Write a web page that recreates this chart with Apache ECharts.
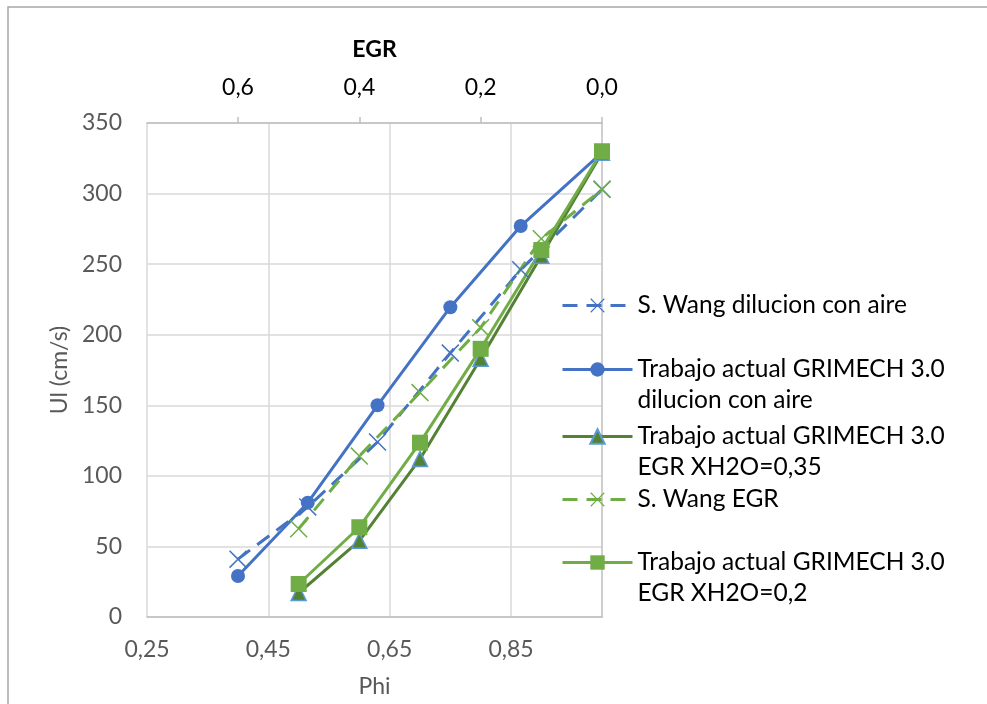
<!DOCTYPE html>
<html>
<head>
<meta charset="utf-8">
<title>Ul vs Phi</title>
<script src="https://cdn.jsdelivr.net/npm/echarts@6/dist/echarts.min.js"></script>
<style>
  html, body { margin: 0; padding: 0; background: #fff; }
  #chart { width: 987px; height: 704px; }
</style>
</head>
<body>
<div id="chart"></div>
<script>
// datos
var phiAire = [0.4, 0.515, 0.63, 0.75, 0.866, 1.0];
var phiEgr = [0.5, 0.6, 0.7, 0.8, 0.9, 1.0];

var wangAire = [41, 78, 124, 187, 246, 303];
var trabajoAire = [29, 81, 150, 219.5, 277, 329];
var trabajoEgr035 = [17, 54, 112, 183, 256, 329];
var wangEgr = [62.5, 114, 159, 205, 268, 303];
var trabajoEgr02 = [23.4, 63.6, 123.5, 190, 260, 330];

var phiTicks = [0.25, 0.45, 0.65, 0.85];
var egrTicks = [0, 0.2, 0.4, 0.6];

var nombres = [
    'S. Wang dilucion con aire',
    'Trabajo actual GRIMECH 3.0 dilucion con aire',
    'Trabajo actual GRIMECH 3.0 EGR XH2O=0,35',
    'S. Wang EGR',
    'Trabajo actual GRIMECH 3.0 EGR XH2O=0,2'
];

var FONT = 'Lato';
var AZUL = '#4472C4';
var VERDE = '#70AD47';
var VERDE_OSC = '#548235';
var CRUZ = 'path://M0,0.6L0.6,0L5,4.4L9.4,0L10,0.6L5.6,5L10,9.4L9.4,10L5,5.6L0.6,10L0,9.4L4.4,5Z';

function pares(xs, ys) {
    return xs.map(function (x, i) { return [x, ys[i]]; });
}
function coma(v, dec) {
    return v.toFixed(dec).replace('.', ',');
}

// leyendas separadas para colocar cada entrada como en Excel
var leyendaTops = [290, 323, 390, 484, 516];
var leyendas = nombres.map(function (n, i) {
    return {
        data: [n],
        orient: 'vertical',
        left: 561,
        top: leyendaTops[i],
        padding: 0,
        itemWidth: 70,
        itemHeight: 18,
        selectedMode: false,
        lineStyle: { width: 3 },
        textStyle: { fontFamily: FONT, fontSize: 24.5, color: '#000', lineHeight: 31 },
        formatter: function (name) {
            if (name.indexOf('GRIMECH 3.0 ') > 0) {
                var k = name.indexOf('3.0 ') + 3;
                return '\n' + name.slice(0, k) + '\n' + name.slice(k + 1);
            }
            return name;
        }
    };
});

var chart = echarts.init(document.getElementById('chart'));
var option = {
    animation: false,
    backgroundColor: '#fff',
    graphic: [{
        type: 'rect',
        shape: { x: 8, y: 7, width: 1200, height: 900 },
        style: { fill: 'none', stroke: '#a6a6a6', lineWidth: 1.5 },
        silent: true
    }],
    legend: leyendas,
    grid: { left: 147, right: 385, top: 123, bottom: 87, containLabel: false },
    xAxis: [
        {
            type: 'value',
            position: 'bottom',
            min: 0.25,
            max: 1.0,
            interval: 0.2,
            name: 'Phi',
            nameLocation: 'middle',
            nameGap: 58,
            nameTextStyle: { fontFamily: FONT, fontSize: 23, color: '#595959' },
            axisLine: { show: true, lineStyle: { color: '#bfbfbf', width: 1.5 } },
            axisTick: { show: false },
            axisLabel: {
                showMaxLabel: false,
                margin: 21,
                fontFamily: FONT, fontSize: 23, color: '#595959',
                formatter: function (v) { return phiTicks.indexOf(+v.toFixed(2)) >= 0 ? coma(v, 2) : ''; }
            },
            splitLine: { show: true, showMaxLine: false, lineStyle: { color: '#d9d9d9', width: 1.5 } }
        },
        {
            type: 'value',
            position: 'top',
            inverse: true,
            min: 0,
            max: 0.75,
            interval: 0.2,
            name: 'EGR',
            nameLocation: 'middle',
            nameGap: 62,
            nameTextStyle: { fontFamily: FONT, fontSize: 23, fontWeight: 'bold', color: '#000' },
            axisLine: { show: true, lineStyle: { color: '#bfbfbf', width: 1.5 } },
            axisTick: { show: true, inside: false, length: 6, lineStyle: { color: '#bfbfbf', width: 1.5 }, customValues: egrTicks },
            axisLabel: {
                margin: 24,
                fontFamily: FONT, fontSize: 23, color: '#000',
                customValues: egrTicks,
                formatter: function (v) { return coma(v, 1); }
            },
            splitLine: { show: false }
        }
    ],
    yAxis: {
        type: 'value',
        min: 0,
        max: 350,
        interval: 50,
        name: 'Ul (cm/s)',
        nameLocation: 'middle',
        nameGap: 76,
        nameTextStyle: { fontFamily: FONT, fontSize: 23, color: '#595959' },
        axisLine: { show: true, lineStyle: { color: '#bfbfbf', width: 1.5 } },
        axisTick: { show: false },
        axisLabel: { margin: 25, fontFamily: FONT, fontSize: 23, color: '#595959' },
        splitLine: { show: true, lineStyle: { color: '#d9d9d9', width: 1.5 } }
    },
    series: [
        {
            name: nombres[0], type: 'line', xAxisIndex: 0,
            data: pares(phiAire, wangAire),
            symbol: CRUZ, symbolSize: 18,
            itemStyle: { color: AZUL },
            lineStyle: { color: AZUL, width: 3, type: [15, 9] }
        },
        {
            name: nombres[1], type: 'line', xAxisIndex: 0,
            data: pares(phiAire, trabajoAire),
            symbol: 'circle', symbolSize: 14,
            itemStyle: { color: AZUL },
            lineStyle: { color: AZUL, width: 3 }
        },
        {
            name: nombres[2], type: 'line', xAxisIndex: 0,
            data: pares(phiEgr, trabajoEgr035),
            symbol: 'triangle', symbolSize: 15,
            itemStyle: { color: VERDE_OSC, borderColor: '#5B9BD5', borderWidth: 1.5 },
            lineStyle: { color: VERDE_OSC, width: 3 }
        },
        {
            name: nombres[3], type: 'line', xAxisIndex: 0,
            data: pares(phiEgr, wangEgr),
            symbol: CRUZ, symbolSize: 18,
            itemStyle: { color: VERDE },
            lineStyle: { color: VERDE, width: 3, type: [15, 9] }
        },
        {
            name: nombres[4], type: 'line', xAxisIndex: 0,
            data: pares(phiEgr, trabajoEgr02),
            symbol: 'rect', symbolSize: 16,
            itemStyle: { color: VERDE },
            lineStyle: { color: VERDE, width: 3 }
        }
    ]
};
chart.setOption(option);
</script>
</body>
</html>
